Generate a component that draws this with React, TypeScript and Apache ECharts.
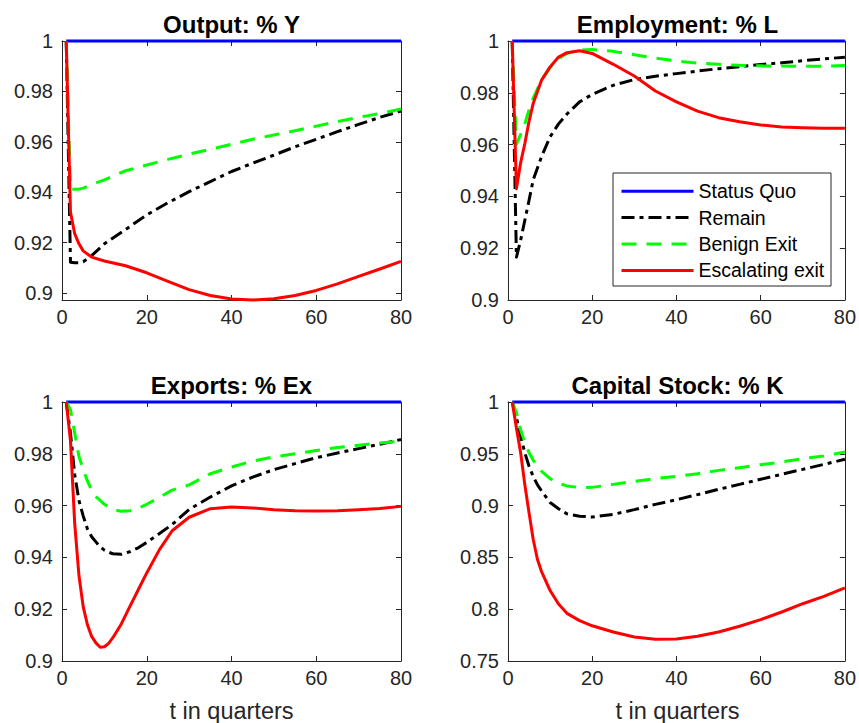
import React, { useEffect, useRef } from "react";
import * as echarts from "echarts";

const SERIES_NAMES = ["Status Quo", "Remain", "Benign Exit", "Escalating exit"];
const PANEL_TITLES = ["Output: % Y", "Employment: % L", "Exports: % Ex", "Capital Stock: % K"];
const X_LABEL = "t in quarters";
const X_TICKS = [0, 20, 40, 60, 80];
const Y_TICKS_OUT = [0.9, 0.92, 0.94, 0.96, 0.98, 1];
const Y_TICKS_EMP = [0.9, 0.92, 0.94, 0.96, 0.98, 1];
const Y_TICKS_EXP = [0.9, 0.92, 0.94, 0.96, 0.98, 1];
const Y_TICKS_CAP = [0.75, 0.8, 0.85, 0.9, 0.95, 1];
const Y_RANGES = [
  [0.8972, 1],
  [0.9, 1],
  [0.9, 1],
  [0.75, 1],
];

// Status quo (all panels)
const SQ_T = [1, 80];
const SQ_V = [1, 1];

// Output
const OUT_T = [1, 2, 3, 4, 5, 7, 10, 15, 20, 25, 30, 35, 40, 45, 50, 55, 60, 65, 70, 75, 80];
const OUT_REMAIN = [1, 0.9122, 0.912, 0.912, 0.9124, 0.9148, 0.9195, 0.9252, 0.931, 0.9358, 0.9402, 0.9442, 0.9482, 0.9515, 0.9547, 0.958, 0.961, 0.964, 0.9669, 0.9697, 0.9722];
const OUT_BENIGN = [1, 0.9412, 0.9412, 0.9412, 0.9416, 0.943, 0.9449, 0.9485, 0.9508, 0.953, 0.9551, 0.957, 0.959, 0.961, 0.9627, 0.9644, 0.9662, 0.968, 0.9697, 0.9712, 0.973];
const OUT_ESC = [1, 0.932, 0.9235, 0.9195, 0.9167, 0.9142, 0.9127, 0.9108, 0.908, 0.9046, 0.9013, 0.899, 0.8976, 0.8972, 0.8977, 0.899, 0.901, 0.9036, 0.9066, 0.9095, 0.9125];

// Employment
const EMP_T = [1, 2, 3, 4, 5, 6, 8, 10, 12, 14, 17, 20, 25, 30, 35, 40, 45, 50, 55, 60, 65, 70, 75, 80];
const EMP_REMAIN = [1, 0.9165, 0.9231, 0.9308, 0.9385, 0.9465, 0.9555, 0.963, 0.968, 0.9718, 0.9765, 0.9794, 0.9829, 0.9851, 0.9864, 0.9874, 0.9884, 0.9893, 0.9901, 0.9909, 0.9916, 0.9924, 0.9931, 0.9937];
const EMP_BENIGN = [1, 0.9602, 0.964, 0.968, 0.9735, 0.978, 0.985, 0.9898, 0.9932, 0.9952, 0.9965, 0.9967, 0.996, 0.9947, 0.9934, 0.9923, 0.9915, 0.991, 0.9906, 0.9904, 0.9903, 0.9902, 0.9903, 0.9905];
const EMP_ESC = [1, 0.943, 0.953, 0.9604, 0.969, 0.976, 0.985, 0.99, 0.9938, 0.9955, 0.9962, 0.9952, 0.991, 0.9865, 0.9807, 0.9765, 0.9729, 0.9704, 0.9688, 0.9676, 0.9668, 0.9665, 0.9663, 0.9663];

// Exports
const EXP_T = [1, 2, 3, 4, 5, 6, 7, 8, 9, 10, 11, 12, 14, 16, 18, 20, 23, 26, 30, 35, 40, 45, 50, 55, 60, 65, 70, 75, 80];
const EXP_REMAIN = [1, 0.988, 0.972, 0.962, 0.956, 0.951, 0.948, 0.946, 0.944, 0.9428, 0.942, 0.9414, 0.9412, 0.9422, 0.9437, 0.9458, 0.9492, 0.9527, 0.9585, 0.9633, 0.9676, 0.971, 0.9739, 0.9762, 0.9785, 0.9803, 0.982, 0.9837, 0.9855];
const EXP_BENIGN = [1, 0.997, 0.988, 0.979, 0.974, 0.9695, 0.966, 0.9635, 0.962, 0.9605, 0.9595, 0.9585, 0.9578, 0.958, 0.959, 0.9605, 0.9632, 0.966, 0.968, 0.9723, 0.9749, 0.9772, 0.9788, 0.98, 0.9813, 0.9824, 0.9833, 0.9842, 0.9849];
const EXP_ESC = [1, 0.985, 0.953, 0.933, 0.921, 0.914, 0.9095, 0.907, 0.9053, 0.9055, 0.9068, 0.909, 0.9143, 0.921, 0.9275, 0.934, 0.943, 0.9503, 0.9555, 0.9588, 0.9595, 0.9591, 0.9584, 0.958, 0.9579, 0.958, 0.9584, 0.9589, 0.9597];

// Capital stock
const CAP_T = [1, 2, 3, 4, 5, 6, 7, 8, 10, 12, 14, 17, 20, 25, 30, 35, 40, 45, 50, 55, 60, 65, 70, 75, 80];
const CAP_REMAIN = [1, 0.985, 0.967, 0.951, 0.938, 0.928, 0.92, 0.914, 0.903, 0.897, 0.892, 0.8898, 0.889, 0.8916, 0.8961, 0.9012, 0.9057, 0.9106, 0.9157, 0.9205, 0.9254, 0.9302, 0.935, 0.9398, 0.9447];
const CAP_BENIGN = [1, 0.99, 0.973, 0.961, 0.951, 0.9437, 0.938, 0.933, 0.926, 0.9215, 0.919, 0.9174, 0.9176, 0.9205, 0.9234, 0.926, 0.9283, 0.9308, 0.934, 0.9366, 0.9395, 0.9421, 0.9453, 0.9479, 0.9517];
const CAP_ESC = [1, 0.975, 0.951, 0.92, 0.893, 0.867, 0.848, 0.836, 0.818, 0.805, 0.796, 0.789, 0.784, 0.778, 0.7732, 0.7709, 0.7712, 0.7738, 0.778, 0.7835, 0.7899, 0.7973, 0.8053, 0.8124, 0.8205];

const PANELS = [
  { t: OUT_T, remain: OUT_REMAIN, benign: OUT_BENIGN, esc: OUT_ESC, ticks: Y_TICKS_OUT },
  { t: EMP_T, remain: EMP_REMAIN, benign: EMP_BENIGN, esc: EMP_ESC, ticks: Y_TICKS_EMP },
  { t: EXP_T, remain: EXP_REMAIN, benign: EXP_BENIGN, esc: EXP_ESC, ticks: Y_TICKS_EXP },
  { t: CAP_T, remain: CAP_REMAIN, benign: CAP_BENIGN, esc: CAP_ESC, ticks: Y_TICKS_CAP },
];

const GRIDS = [
  { left: 62, top: 41, width: 339, height: 259 },
  { left: 508, top: 41, width: 339, height: 259 },
  { left: 62, top: 402, width: 339, height: 259 },
  { left: 508, top: 402, width: 339, height: 259 },
];

const FONT = "'Liberation Sans', Arial, Helvetica, sans-serif";
const AXIS_COLOR = "#262626";

const COLORS = ["#0000ff", "#000000", "#00ff00", "#ff0000"];
const DASHES: any[] = ["solid", [13, 5, 4, 5], [15, 10], "solid"];

export default function App() {
  const ref = useRef<HTMLDivElement>(null);

  useEffect(() => {
    if (!ref.current) return;
    const chart = echarts.init(ref.current, null, { renderer: "svg" });

    const xAxes: any[] = [];
    const yAxes: any[] = [];
    const series: any[] = [];
    const graphics: any[] = [];

    const tickStyle = { show: true, inside: true, length: 5, lineStyle: { color: AXIS_COLOR, width: 1 } };
    const lineStyle = { show: true, onZero: false, lineStyle: { color: AXIS_COLOR, width: 1 } };

    for (let pos = 0; pos < 2; pos++) {
      GRIDS.forEach((g, i) => {
        xAxes.push({
          type: "value",
          gridIndex: i,
          position: pos === 0 ? "bottom" : "top",
          min: X_TICKS[0],
          max: X_TICKS[X_TICKS.length - 1],
          interval: 20,
          axisLine: lineStyle,
          axisTick: tickStyle,
          axisLabel: {
            show: pos === 0,
            fontSize: 20,
            color: AXIS_COLOR,
            fontFamily: FONT,
            margin: 7,
          },
          splitLine: { show: false },
        });
        yAxes.push({
          type: "value",
          gridIndex: i,
          position: pos === 0 ? "left" : "right",
          min: Y_RANGES[i][0],
          max: Y_RANGES[i][1],
          axisLine: lineStyle,
          axisTick: { ...tickStyle, customValues: PANELS[i].ticks },
          axisLabel: {
            show: pos === 0,
            customValues: PANELS[i].ticks,
            showMinLabel: true,
            showMaxLabel: true,
            fontSize: 20,
            color: AXIS_COLOR,
            fontFamily: FONT,
            margin: 9,
          },
          splitLine: { show: false },
        });
      });
    }

    PANELS.forEach((p, i) => {
      const sets = [
        [SQ_T, SQ_V],
        [p.t, p.remain],
        [p.t, p.benign],
        [p.t, p.esc],
      ];
      sets.forEach(([ts, vs], k) => {
        series.push({
          type: "line",
          name: SERIES_NAMES[k],
          xAxisIndex: i,
          yAxisIndex: i,
          data: (ts as number[]).map((x, j) => [x, (vs as number[])[j]]),
          symbol: "none",
          showSymbol: false,
          clip: false,
          smooth: false,
          lineStyle: { color: COLORS[k], width: 3, type: DASHES[k], join: "round", cap: "butt" },
          itemStyle: { color: COLORS[k] },
          z: 2 + k * 0.01,
        });
      });

      const g = GRIDS[i];
      graphics.push({
        type: "text",
        x: g.left + g.width / 2,
        y: g.top - 17,
        style: {
          text: PANEL_TITLES[i],
          fontSize: 24,
          fontWeight: "bold",
          fontFamily: FONT,
          fill: "#000",
          align: "center",
          verticalAlign: "middle",
        },
      });
      if (i >= 2) {
        graphics.push({
          type: "text",
          x: g.left + g.width / 2,
          y: g.top + g.height + 50,
          style: {
            text: X_LABEL,
            fontSize: 23.5,
            fontFamily: FONT,
            fill: AXIS_COLOR,
            align: "center",
            verticalAlign: "middle",
          },
        });
      }
    });

    graphics.push({
      type: "rect",
      z: 3,
      shape: { x: 613, y: 173, width: 218, height: 113 },
      style: { fill: "#ffffff", stroke: AXIS_COLOR, lineWidth: 1 },
    });

    chart.setOption({
      animation: false,
      grid: GRIDS.map((g) => ({ ...g, containLabel: false })),
      xAxis: xAxes,
      yAxis: yAxes,
      series,
      graphic: graphics,
      legend: {
        show: true,
        orient: "vertical",
        left: 620,
        top: 178,
        padding: 0,
        itemWidth: 72,
        itemHeight: 14,
        itemGap: 0,
        selectedMode: false,
        z: 10,
        data: SERIES_NAMES,
        itemStyle: { opacity: 0, borderWidth: 0 },
        lineStyle: { width: 3 },
        textStyle: { fontSize: 19.5, color: "#000", fontFamily: FONT, lineHeight: 26.4 },
      },
    });

    return () => chart.dispose();
  }, []);

  return (
    <div
      ref={ref}
      style={{ position: "absolute", left: 0, top: 0, width: 859, height: 723, background: "#fff" }}
    />
  );
}
